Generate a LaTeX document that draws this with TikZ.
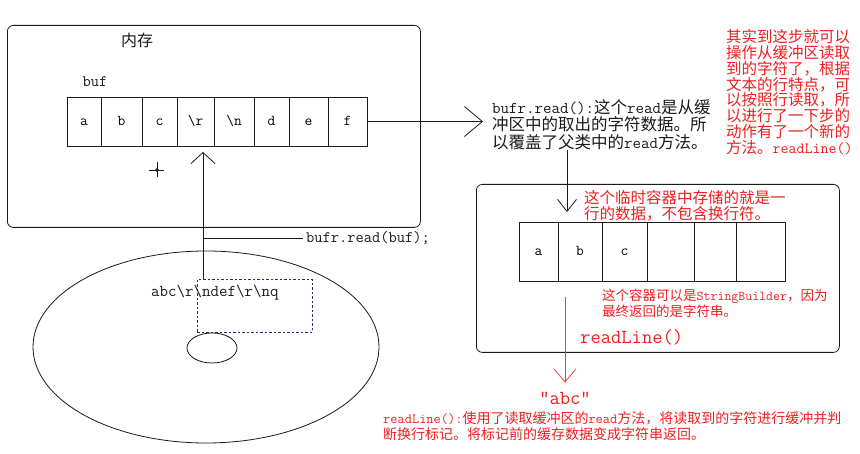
\documentclass[tikz,border=0pt]{standalone}
\usepackage{fontspec}
\usepackage{tikz}
\usetikzlibrary{arrows.meta}
\newfontfamily\cjk{Noto Sans CJK SC}
\newcommand\zh[1]{{\cjk #1}}
\definecolor{Ink}{HTML}{1A1A1A}
\definecolor{Note}{HTML}{F01E1E}
\definecolor{Dash}{HTML}{2B2B7A}

\begin{document}
\begin{tikzpicture}[x=1pt,y=-1pt,
  panel/.style={draw=Ink,line width=0.8pt,rounded corners=6pt,inner sep=0pt,anchor=north west},
  cell/.style={draw=Ink,line width=0.8pt,inner sep=0pt,text height=7.5pt,text depth=0pt,font=\ttfamily\fontsize{15}{15}\selectfont},
  selbox/.style={draw=Dash,line width=0.8pt,dash pattern=on 2.5pt off 2pt,inner sep=0pt,anchor=north west},
  link/.style={draw=Ink,line width=0.8pt},
  memo/.style={inner sep=0pt,anchor=north west,align=left,text=Note},
  label/.style={inner sep=0pt,text=Ink}
]
\useasboundingbox (0,0) rectangle (860,454);
\node[panel,minimum width=413pt,minimum height=202pt] (mem) at (7,25) {};
\node[label,font=\cjk\fontsize{16}{16}\selectfont] (memlbl) at (137,40) {内存};
\node[label,font=\ttfamily\fontsize{16}{16}\selectfont] (buflbl) at (95,82) {buf};
\foreach \t/\xa/\xb [count=\i] in {a/67/101,b/101/142,c/142/177,{\textbackslash r}/177/214,{\textbackslash n}/214/254,d/254/289,e/289/328,f/328/367} {
  \node[cell,minimum width={(\xb-\xa)*1pt},minimum height=49pt] (m\i) at ({(\xa+\xb)/2},121.5) {\t};
}
\draw[link] (149,170) -- (164,170) (157,162) -- (157,177);
\draw[link] (157,170) circle (1.5);

\draw[Ink,line width=0.8pt] (206,347) ellipse [x radius=173,y radius=96];
\draw[Ink,line width=0.8pt] (212,348) ellipse [x radius=25,y radius=15];
\node[selbox,minimum width=115pt,minimum height=53pt] (sel) at (197,279) {};
\node[label,anchor=west,font=\ttfamily\fontsize{16.5}{16.5}\selectfont] (disktxt) at (151,293) {abc\textbackslash r\textbackslash ndef\textbackslash r\textbackslash nq};
\coordinate (uptip) at (203,152);
\draw[link,-{Straight Barb[length=11pt,width=24pt]}] (sel.north -| uptip) -- (uptip);
\node[label,anchor=west,inner xsep=3pt,font=\ttfamily\fontsize{16}{16}\selectfont] (rdcall) at (303,238) {bufr.read(buf);};
\draw[link] (rdcall.west -| uptip) -- (rdcall.west);

\node[inner sep=0pt,anchor=north west,align=left,text=Ink,font=\ttfamily\fontsize{16.5}{17.5}\selectfont] (bufr) at (492,99)
  {bufr.read():\zh{这个}read\zh{是从缓}\\\zh{冲区中的取出的字符数据。所}\\\zh{以覆盖了父类中的}read\zh{方法。}};
\draw[link,shorten >=9pt,-{Straight Barb[length=18pt,width=30pt]}] (m8.east) -- (m8.east -| bufr.west);
\node[memo,font=\ttfamily\fontsize{15.5}{15.9}\selectfont] (hint) at (726,29)
  {\zh{其实到这步就可以}\\\zh{操作从缓冲区读取}\\\zh{到的字符了，根据}\\\zh{文本的行特点，可}\\\zh{以按照行读取，所}\\\zh{以进行了一下步的}\\\zh{动作有了一个新的}\\\zh{方法。}readLine()};

\node[panel,minimum width=363pt,minimum height=168pt] (line) at (476,184) {};
\foreach \t/\xa/\xb [count=\i] in {a/519/558,b/558/602,c/602/647,{}/647/694,{}/694/736,{}/736/785} {
  \node[cell,minimum width={(\xb-\xa)*1pt},minimum height=59pt] (s\i) at ({(\xa+\xb)/2},251.5) {\t};
}
\coordinate (dntip) at (567,212);
\draw[link,-{Straight Barb[length=12pt,width=19pt]}] (dntip |- bufr.south) -- (dntip);
\node[memo,font=\ttfamily\fontsize{15.5}{16}\selectfont] (tmpnote) at (584,190)
  {\zh{这个临时容器中存储的就是一}\\\zh{行的数据，不包含换行符。}};
\node[memo,font=\ttfamily\fontsize{13.5}{13.5}\selectfont] (sbnote) at (602,289)
  {\zh{这个容器可以是}StringBuilder\zh{，因为}\\\zh{最终返回的是字符串。}};
\node[label,text=Note,anchor=west,font=\ttfamily\fontsize{20}{20}\selectfont] (rlcall) at (580,337) {readLine()};
\coordinate (rdtop) at (565,297);
\node[label,text=Note,font=\ttfamily\fontsize{20}{20}\selectfont] (abc) at (565,398) {"abc"};
\draw[Note!85,line width=0.8pt,shorten >=9pt,-{Straight Barb[length=13pt,width=22pt]}] (rdtop) -- (abc.north);
\node[memo,font=\ttfamily\fontsize{14}{16}\selectfont] (rlnote) at (383,411)
  {readLine():\zh{使用了读取缓冲区的}read\zh{方法，将读取到的字符进行缓冲并判}\\\zh{断换行标记。将标记前的缓存数据变成字符串返回。}};
\end{tikzpicture}
\end{document}
